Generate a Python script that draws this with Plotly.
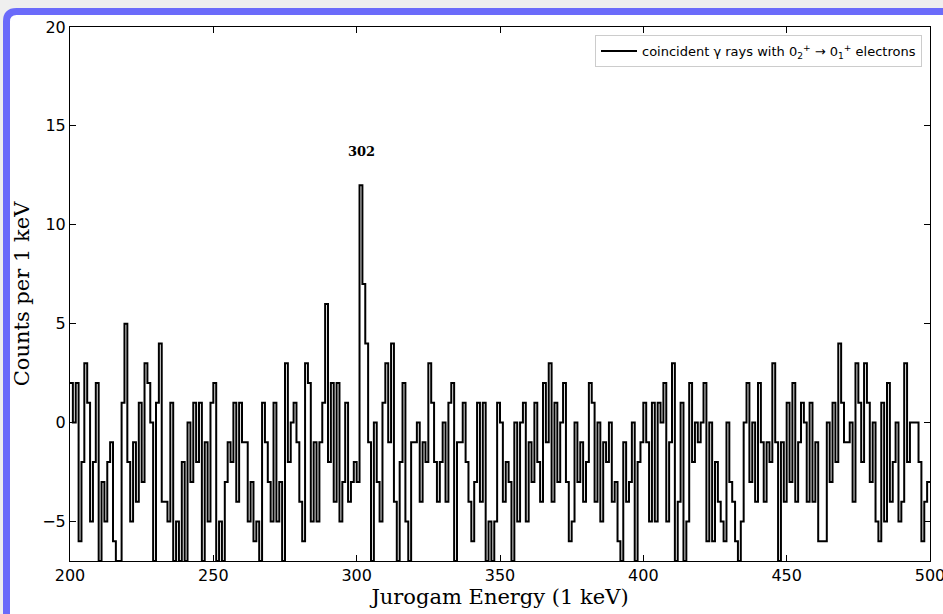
import plotly.graph_objects as go

# ---- data ----
energies = list(range(200, 500))  # 1 keV bins (left edges)
counts = [
    2, 0, 2, -6, -2, 3, 1, -5, -2, 2,        # 200-209
    -7, -3, -5, -2, -1, -6, -7, -7, 1, 5,    # 210-219
    -2, -5, -1, -4, 1, -3, 3, 2, 0, -7,      # 220-229
    1, 4, -4, -4, -5, 1, -7, -5, -7, -2,     # 230-239
    -7, 0, -3, 1, -2, 1, -7, -1, -5, 1,      # 240-249
    2, -7, -5, -7, -3, -1, -2, 1, -4, 1,     # 250-259
    -1, -1, -5, -3, -6, -5, -7, 1, -1, -3,   # 260-269
    -5, 1, -5, -3, -7, 3, -2, 0, 1, -1,      # 270-279
    -4, -6, 3, 2, -5, -1, -5, -1, 1, 6,      # 280-289
    -2, 2, -4, 2, -5, -3, 1, -4, -3, -2,     # 290-299
    -3, 12, 7, 4, -1, -7, 0, -3, -5, 1,      # 300-309
    3, -1, 4, -4, -7, -2, 2, -5, -7, -1,     # 310-319
    -1, 0, -4, -1, -2, 3, 1, -2, -4, -2,     # 320-329
    0, -4, 1, 2, -7, -1, -1, 1, -2, -4,      # 330-339
    -6, -3, 1, -4, 1, -7, -5, -7, -5, 1,     # 340-349
    0, -4, -2, -3, -7, 0, -5, 0, 1, -5,      # 350-359
    -1, -3, 1, -2, -4, 2, -1, 3, -4, 1,      # 360-369
    -3, 0, 2, -3, -6, -5, 0, -3, -1, -4,     # 370-379
    -2, 2, 1, -4, 0, -5, -1, -2, 0, -4,      # 380-389
    -3, -6, -7, -1, -4, -3, 0, -7, -2, -1,   # 390-399
    1, -1, -5, 1, -5, 1, 0, 2, -5, -1,       # 400-409
    3, -7, -4, 1, -7, -5, 2, -2, 0, -1,      # 410-419
    0, 2, -6, 0, -6, -2, -4, -5, -6, 0,      # 420-429
    -3, -4, -6, -7, -5, 0, 2, -3, 0, -4,     # 430-439
    2, -1, -4, -1, -2, 3, -1, -7, -1, -4,    # 440-449
    1, -3, 2, -4, -1, 1, 0, -4, 1, -4,       # 450-459
    -1, -6, -6, -6, 0, -3, 1, -2, 4, 1,      # 460-469
    -1, -1, 0, -4, 3, 1, -2, 3, 1, -3,       # 470-479
    0, -5, -6, 1, -5, 2, -4, -2, 0, -5,      # 480-489
    -4, 3, -2, 0, 0, 0, -2, -6, -4, -3,      # 490-499
]
x_ticks = [200, 250, 300, 350, 400, 450, 500]
y_ticks = [-5, 0, 5, 10, 15, 20]
peak_label = "302"
peak_energy = 301.8
peak_label_y = 13.7
legend_name = ("coincident \u03b3 rays with 0<sub>2</sub><sup>+</sup> \u2192 "
               "0<sub>1</sub><sup>+</sup> electrons")

# step edges: extend last bin to its right edge
x_steps = energies + [energies[-1] + 1]
y_steps = counts + [counts[-1]]

W, H = 943, 614
ML, MR, MT, MB = 70, 13, 27, 53
PW = W - ML - MR
PH = H - MT - MB


def xp(px):
    return (px - ML) / PW


def yp(py):
    return (H - MB - py) / PH


fig = go.Figure()
fig.add_trace(go.Scatter(
    x=x_steps, y=y_steps, mode="lines", line_shape="hv",
    line=dict(color="black", width=2), name=legend_name, showlegend=True,
))

# page frame (blue rounded border)
path = (f"M {xp(6.5)},{yp(700)} L {xp(6.5)},{yp(21.5)} "
        f"Q {xp(6.5)},{yp(11.5)} {xp(16.5)},{yp(11.5)} "
        f"L {xp(1000)},{yp(11.5)} L {xp(1000)},{yp(700)} Z")
fig.add_shape(type="path", path=path, xref="paper", yref="paper",
              line=dict(color="#6b6bfa", width=7), fillcolor="white",
              layer="below")

fig.add_annotation(x=peak_energy, y=peak_label_y, text=f"<b>{peak_label}</b>",
                   showarrow=False,
                   font=dict(family="DejaVu Serif", size=13, color="black"))

axis_common = dict(showline=True, linecolor="black", linewidth=1, mirror="ticks",
                   ticks="inside", ticklen=6, tickwidth=1, tickcolor="black",
                   showgrid=False, zeroline=False, automargin=False,
                   ticklabeloverflow="allow",
                   tickfont=dict(family="DejaVu Sans", size=16, color="black"))

fig.update_xaxes(range=[200, 500], tickvals=x_ticks,
                 title=dict(text="Jurogam Energy (1 keV)", standoff=4,
                            font=dict(family="DejaVu Serif", size=21, color="black")),
                 **axis_common)
fig.update_yaxes(range=[-7, 20], tickvals=y_ticks,
                 title=dict(text="Counts per 1 keV", standoff=6,
                            font=dict(family="DejaVu Serif", size=21, color="black")),
                 **axis_common)

fig.update_layout(
    width=W, height=H,
    margin=dict(l=ML, r=MR, t=MT, b=MB, pad=0),
    paper_bgcolor="#efefef", plot_bgcolor="white",
    showlegend=True,
    legend=dict(x=0.9907, y=0.985, xanchor="right", yanchor="top",
                bgcolor="white", bordercolor="#cccccc", borderwidth=1,
                font=dict(family="DejaVu Sans", size=13, color="black"),
                itemwidth=36),
)

fig.write_html("out.html")
